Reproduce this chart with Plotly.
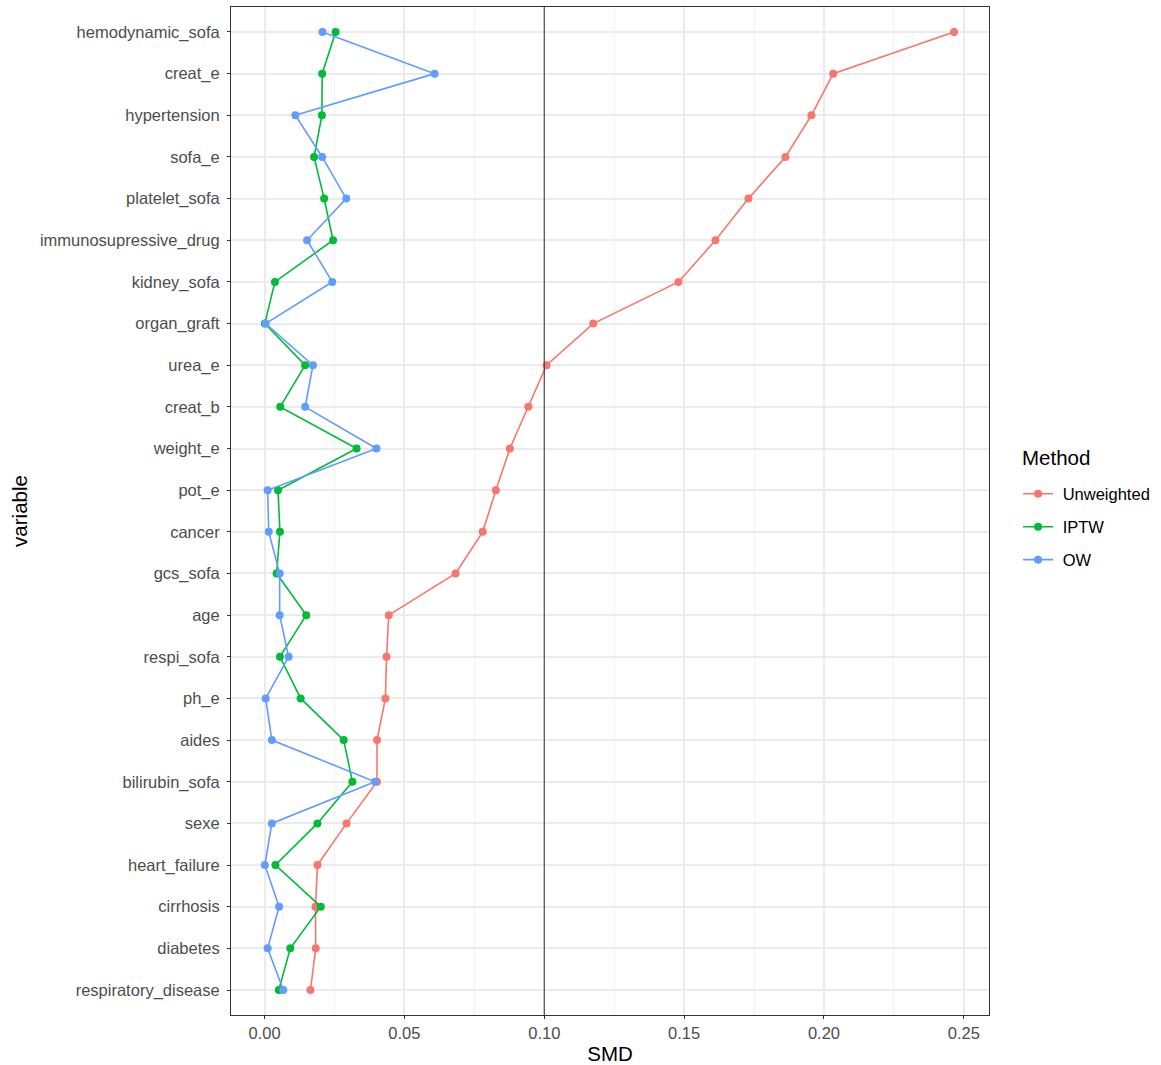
import plotly.graph_objects as go

variables = ["hemodynamic_sofa", "creat_e", "hypertension", "sofa_e", "platelet_sofa",
             "immunosupressive_drug", "kidney_sofa", "organ_graft", "urea_e", "creat_b",
             "weight_e", "pot_e", "cancer", "gcs_sofa", "age", "respi_sofa", "ph_e",
             "aides", "bilirubin_sofa", "sexe", "heart_failure", "cirrhosis", "diabetes",
             "respiratory_disease"]

unweighted = [0.2465, 0.2033, 0.1955, 0.1862, 0.1730, 0.1612, 0.1480, 0.1175, 0.1008, 0.0943,
              0.0877, 0.0827, 0.0780, 0.0683, 0.0444, 0.0436, 0.0432, 0.0402, 0.0402, 0.0293,
              0.0189, 0.0182, 0.0183, 0.0164]
iptw = [0.0254, 0.0206, 0.0205, 0.0177, 0.0213, 0.0245, 0.0037, 0.0001, 0.0145, 0.0056,
        0.0329, 0.0048, 0.0055, 0.0043, 0.0149, 0.0055, 0.0129, 0.0283, 0.0314, 0.0189,
        0.0039, 0.0201, 0.0092, 0.0051]
ow = [0.0207, 0.0608, 0.0110, 0.0206, 0.0292, 0.0152, 0.0242, 0.0004, 0.0173, 0.0145,
      0.0400, 0.0011, 0.0015, 0.0054, 0.0054, 0.0086, 0.0004, 0.0026, 0.0395, 0.0026,
      0.0001, 0.0052, 0.0011, 0.0067]

methods = ["Unweighted", "IPTW", "OW"]
series = [unweighted, iptw, ow]
colors = ["#F8766D", "#00BA38", "#619CFF"]

fig = go.Figure()
for name, vals, col in zip(methods, series, colors):
    fig.add_trace(go.Scatter(
        x=vals, y=variables, mode="lines+markers", name="\u00a0" + name, legendgroup=name,
        line=dict(color=col, width=1.6),
        marker=dict(color=col, size=8),
    ))

fig.add_vline(x=0.1, line=dict(color="#333333", width=1))

font = "Liberation Sans, Arial, Helvetica, sans-serif"
fig.add_annotation(text="Method", xref="paper", yref="paper", x=1.0408, y=0.5526,
                   xanchor="left", yanchor="middle", showarrow=False,
                   font=dict(size=20.5, color="black"))
fig.update_layout(
    width=1161, height=1065,
    margin=dict(l=231, r=171, t=7, b=50),
    plot_bgcolor="white", paper_bgcolor="white",
    font=dict(family=font, size=16.5, color="#4d4d4d"),
    legend=dict(
        x=1.037, xanchor="left", y=0.4841, yanchor="middle",
        font=dict(size=16.5, color="black"),
        traceorder="grouped", tracegroupgap=8.5,
        itemwidth=30,
    ),
    xaxis=dict(
        range=[-0.012, 0.259],
        tickvals=[0, 0.05, 0.1, 0.15, 0.2, 0.25],
        ticktext=["0.00", "0.05", "0.10", "0.15", "0.20", "0.25"],
        showgrid=True, gridcolor="#ebebeb", gridwidth=1.5,
        minor=dict(tickvals=[0.025, 0.075, 0.125, 0.175, 0.225], showgrid=True,
                   gridcolor="#f2f2f2", gridwidth=1),
        zeroline=False, automargin=False,
        showline=True, linecolor="#333333", linewidth=1, mirror=True,
        ticks="outside", ticklen=3, tickcolor="#333333",
        tickfont=dict(size=16.5, color="#4d4d4d"),
        title=dict(text="SMD", font=dict(size=20.5, color="black")),
    ),
    yaxis=dict(
        type="category", categoryorder="array", categoryarray=variables,
        range=[23.6, -0.6],
        showgrid=True, gridcolor="#ebebeb", gridwidth=1.5,
        zeroline=False,
        showline=True, linecolor="#333333", linewidth=1, mirror=True,
        ticks="outside", ticklen=3, tickcolor="#333333", ticklabelstandoff=4,
        tickfont=dict(size=16.5, color="#4d4d4d"),
        title=dict(text="variable", font=dict(size=20.5, color="black"), standoff=6),
    ),
)

fig.write_html("out.html", config={"displayModeBar": False},
               post_script="document.body.style.margin='0';")
